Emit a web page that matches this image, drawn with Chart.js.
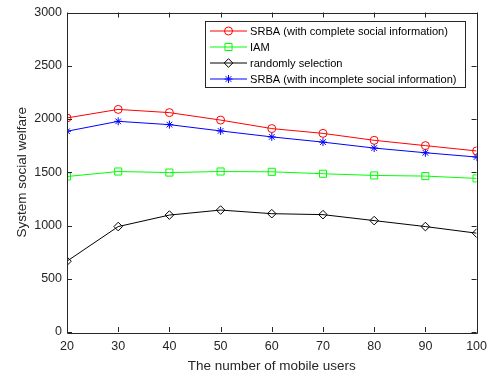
<!DOCTYPE html>
<html>
<head>
<meta charset="utf-8">
<script src="https://cdn.jsdelivr.net/npm/chart.js@4/dist/chart.umd.min.js"></script>
<style>
  html, body { margin: 0; padding: 0; background: #fff; }
  #wrap { width: 494px; height: 378px; }
</style>
</head>
<body>
<div id="wrap"><canvas id="welfareChart" width="494" height="378"></canvas></div>
<script>
// x axis: number of mobile users
const users = [20, 30, 40, 50, 60, 70, 80, 90, 100];

// series values
const srbaComplete = [2010, 2090, 2060, 1990, 1910, 1865, 1800, 1750, 1700];
const iam = [1460, 1507, 1497, 1507, 1504, 1486, 1470, 1464, 1442];
const randomSel = [665, 990, 1098, 1145, 1111, 1102, 1046, 990, 928];
const srbaIncomplete = [1885, 1978, 1947, 1888, 1832, 1783, 1727, 1683, 1643];

const seriesNames = [
    'SRBA (with complete social information)',
    'IAM',
    'randomly selection',
    'SRBA (with incomplete social information)'
];

const xTicks = [20, 30, 40, 50, 60, 70, 80, 90, 100];
const yTicks = [0, 500, 1000, 1500, 2000, 2500, 3000];

const FONT = '"Liberation Sans", Arial, sans-serif';
const AXIS_COLOR = '#262626';

function toPoints(values) {
    return values.map((v, i) => ({ x: users[i], y: v }));
}

// box around the axes with inward ticks on all four sides (matlab style)
const boxPlugin = {
    id: 'matlabBox',
    afterDatasetsDraw(chart) {
        const { ctx, chartArea: a, scales } = chart;
        const len = 5;
        ctx.save();
        ctx.strokeStyle = AXIS_COLOR;
        ctx.lineWidth = 1;
        ctx.beginPath();
        ctx.rect(Math.round(a.left) + 0.5, Math.round(a.top) + 0.5,
            Math.round(a.right - a.left), Math.round(a.bottom - a.top));
        xTicks.forEach(t => {
            const px = Math.round(scales.x.getPixelForValue(t)) + 0.5;
            ctx.moveTo(px, a.bottom);
            ctx.lineTo(px, a.bottom - len);
            ctx.moveTo(px, a.top);
            ctx.lineTo(px, a.top + len);
        });
        yTicks.forEach(t => {
            const py = Math.round(scales.y.getPixelForValue(t)) + 0.5;
            ctx.moveTo(a.left, py);
            ctx.lineTo(a.left + len, py);
            ctx.moveTo(a.right, py);
            ctx.lineTo(a.right - len, py);
        });
        ctx.stroke();
        ctx.restore();
    }
};

// legend drawn inside the plot, top right, with a frame
const insideLegend = {
    id: 'insideLegend',
    afterDraw(chart) {
        const { ctx } = chart;
        const box = { left: 205.5, top: 21.5, width: 260, height: 66 };
        ctx.save();
        ctx.fillStyle = '#fff';
        ctx.strokeStyle = AXIS_COLOR;
        ctx.lineWidth = 1;
        ctx.fillRect(box.left, box.top, box.width, box.height);
        ctx.strokeRect(box.left, box.top, box.width, box.height);
        ctx.font = '11.1px ' + FONT;
        ctx.textBaseline = 'middle';
        chart.data.datasets.forEach((ds, i) => {
            const y = 31 + i * 16;
            ctx.strokeStyle = ds.borderColor;
            ctx.lineWidth = 1;
            ctx.beginPath();
            ctx.moveTo(210, y);
            ctx.lineTo(247, y);
            ctx.stroke();
            ctx.fillStyle = 'rgba(0,0,0,0)';
            Chart.helpers.drawPoint(ctx, {
                pointStyle: ds.pointStyle,
                radius: ds.pointRadius,
                borderWidth: 1,
                rotation: 0
            }, 228.5, y);
            ctx.fillStyle = '#000';
            ctx.fillText(ds.label, 250, y + 0.5);
        });
        ctx.restore();
    }
};

function makeSet(label, values, color, style, radius) {
    return {
        label: label,
        data: toPoints(values),
        borderColor: color,
        backgroundColor: 'rgba(0,0,0,0)',
        pointBorderColor: color,
        pointBackgroundColor: 'rgba(0,0,0,0)',
        borderWidth: 1,
        pointStyle: style,
        pointRadius: radius,
        pointBorderWidth: 1,
        tension: 0,
        fill: false
    };
}

const ctx = document.getElementById('welfareChart').getContext('2d');
new Chart(ctx, {
    type: 'line',
    data: {
        datasets: [
            makeSet(seriesNames[0], srbaComplete, '#ff0000', 'circle', 4),
            makeSet(seriesNames[1], iam, '#00ff00', 'rect', 5),
            makeSet(seriesNames[2], randomSel, '#000000', 'rectRot', 4.3),
            makeSet(seriesNames[3], srbaIncomplete, '#0000ff', 'star', 4)
        ]
    },
    options: {
        responsive: false,
        animation: false,
        devicePixelRatio: 1,
        layout: { padding: { left: 0, right: 16, top: 9, bottom: 0 } },
        plugins: {
            legend: { display: false },
            tooltip: { enabled: false }
        },
        scales: {
            x: {
                type: 'linear',
                min: 20,
                max: 100,
                afterBuildTicks: scale => { scale.ticks = xTicks.map(v => ({ value: v })); },
                afterFit: scale => { scale.height = 46; },
                grid: { display: false, drawTicks: false },
                border: { display: false },
                ticks: {
                    padding: 7,
                    color: AXIS_COLOR,
                    font: { family: FONT, size: 12.5 },
                    maxRotation: 0,
                    callback: v => String(v)
                },
                title: {
                    display: true,
                    text: 'The number of mobile users',
                    color: AXIS_COLOR,
                    font: { family: FONT, size: 13.5 },
                    padding: { top: 0, bottom: 4 }
                }
            },
            y: {
                min: 0,
                max: 3000,
                afterBuildTicks: scale => { scale.ticks = yTicks.map(v => ({ value: v })); },
                afterFit: scale => { scale.width = 67; },
                grid: { display: false, drawTicks: false },
                border: { display: false },
                ticks: {
                    padding: 5,
                    color: AXIS_COLOR,
                    font: { family: FONT, size: 12.5 },
                    callback: v => String(v)
                },
                title: {
                    display: true,
                    text: 'System social welfare',
                    color: AXIS_COLOR,
                    font: { family: FONT, size: 13.5 },
                    padding: { top: 14, bottom: 0 }
                }
            }
        }
    },
    plugins: [boxPlugin, insideLegend]
});
</script>
</body>
</html>
